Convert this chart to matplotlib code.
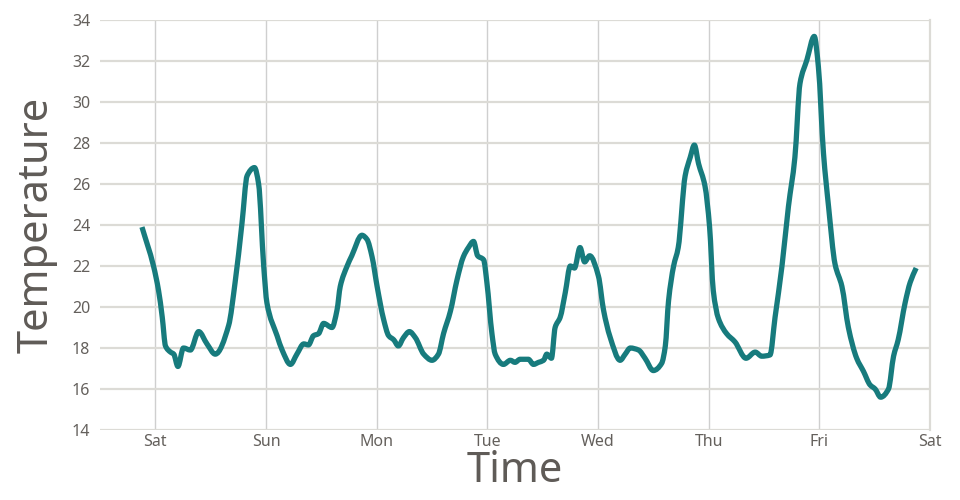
import matplotlib
matplotlib.use("Agg")
import matplotlib.pyplot as plt
from matplotlib.path import Path
from matplotlib.patches import PathPatch
import numpy as np

# hours since Saturday 00:00
hours = [-2.9, -0.4, 0.7, 1.5, 2.2, 3.3, 4.0, 4.9, 6.1, 7.6, 9.4, 11.2, 13.0, 15.9, 17.3,
         18.8, 19.9, 21.5, 22.4, 23.5, 24.2, 26.4, 27.5, 29.3, 30.7, 32.2, 33.2, 34.3, 35.4,
         36.5, 38.3, 39.4, 40.1, 41.6, 42.6, 44.8, 45.9, 47.0, 48.1, 49.5, 50.6, 51.7, 52.7,
         53.8, 55.1, 56.4, 58.2, 60.0, 61.4, 62.5, 64.0, 65.4, 66.8, 67.9, 69.0, 69.9, 71.2,
         71.9, 73.0, 73.7, 75.5, 77.0, 78.0, 79.1, 80.9, 82.0, 83.1, 84.2, 84.9, 85.9, 86.7,
         87.8, 88.9, 90.0, 90.9, 92.1, 93.1, 94.2, 96.1, 97.2, 98.6, 100.8, 101.9, 103.0,
         104.8, 106.2, 108.0, 109.8, 110.6, 111.3, 112.4, 113.4, 114.9, 116.0, 116.9, 117.8,
         119.2, 120.2, 121.0, 122.1, 123.9, 125.7, 128.1, 130.1, 131.5, 133.3, 134.4, 135.9,
         137.3, 138.7, 139.8, 141.3, 142.9, 143.8, 144.9, 146.0, 147.4, 148.9, 150.3, 152.1,
         153.6, 155.0, 156.1, 157.3, 159.0, 160.1, 161.1, 162.6, 163.7, 165.0]
temps = [23.9, 22.0, 20.8, 19.5, 18.1, 17.8, 17.7, 17.1, 18.0, 17.9, 18.8, 18.2, 17.7, 19.1, 21.2,
         24.1, 26.4, 26.8, 26.0, 22.0, 20.2, 18.6, 17.9, 17.2, 17.7, 18.2, 18.15, 18.6, 18.7,
         19.2, 19.0, 19.85, 21.0, 22.0, 22.5, 23.5, 23.3, 22.45, 21.0, 19.4, 18.6, 18.4, 18.1,
         18.5, 18.8, 18.5, 17.7, 17.4, 17.7, 18.7, 19.8, 21.3, 22.45, 22.9, 23.2, 22.5, 22.3,
         21.2, 18.7, 17.7, 17.2, 17.4, 17.3, 17.45, 17.45, 17.2, 17.3, 17.4, 17.7, 17.5, 19.0,
         19.5, 20.7, 22.0, 21.9, 22.9, 22.2, 22.5, 21.5, 19.85, 18.55, 17.4, 17.7, 18.0,
         17.9, 17.5, 16.9, 17.25, 18.1, 20.3, 22.0, 22.9, 26.4, 27.3, 27.9, 27.0,
         25.9, 23.9, 20.8, 19.45, 18.7, 18.3, 17.5, 17.8, 17.6, 17.66, 19.5, 22.0,
         24.9, 27.3, 30.9, 32.05, 33.2, 31.7, 27.5, 24.9, 22.1, 21.0, 19.0, 17.5,
         16.85, 16.2, 16.0, 15.6, 16.0, 17.6, 18.4, 20.2, 21.2, 21.9]

day_labels = ["Sat", "Sun", "Mon", "Tue", "Wed", "Thu", "Fri", "Sat"]
y_ticks = [14, 16, 18, 20, 22, 24, 26, 28, 30, 32, 34]

plt.rcParams["font.family"] = ["Noto Sans", "DejaVu Sans"]


def monotone_path(x, y):
    """Smooth monotone-x cubic curve through the points (as Bezier path)."""
    x = np.asarray(x, float)
    y = np.asarray(y, float)
    n = len(x)
    h = np.diff(x)
    d = np.diff(y) / h
    m = np.zeros(n)
    m[0] = d[0]
    m[-1] = d[-1]
    for i in range(1, n - 1):
        if d[i - 1] * d[i] <= 0:
            m[i] = 0.0
        else:
            w1 = 2 * h[i] + h[i - 1]
            w2 = h[i] + 2 * h[i - 1]
            m[i] = (w1 + w2) / (w1 / d[i - 1] + w2 / d[i])
    verts = [(x[0], y[0])]
    codes = [Path.MOVETO]
    for i in range(n - 1):
        dx = h[i] / 3.0
        verts += [(x[i] + dx, y[i] + m[i] * dx),
                  (x[i + 1] - dx, y[i + 1] - m[i + 1] * dx),
                  (x[i + 1], y[i + 1])]
        codes += [Path.CURVE4] * 3
    return Path(verts, codes)


fig = plt.figure(figsize=(9.6, 5.0), dpi=100)
ax = fig.add_axes([100 / 960, 70 / 500, 830 / 960, 410 / 500])

days = np.array(hours) / 24.0
patch = PathPatch(monotone_path(days, temps), facecolor="none", edgecolor="#177b7d",
                  lw=3.8, joinstyle="round", capstyle="butt", zorder=3)
ax.add_patch(patch)

ax.set_xlim(-0.5, 7)
ax.set_ylim(14, 34)
ax.set_xticks(range(len(day_labels)))
ax.set_xticklabels(day_labels)
ax.set_yticks(y_ticks)

for s in ["left", "top", "bottom"]:
    ax.spines[s].set_visible(False)
ax.spines["right"].set_color("#dcdbd6")
ax.spines["right"].set_linewidth(1.6)

ax.yaxis.grid(True, color="#dcdbd6", lw=1.6)
ax.xaxis.grid(True, color="#cfcfcf", lw=1.0)
ax.set_axisbelow(True)

ax.tick_params(axis="both", length=0, labelsize=11.5, labelcolor="#64605c")
ax.tick_params(axis="x", pad=3)
ax.tick_params(axis="y", pad=7)

ax.set_xlabel("Time", fontsize=30, color="#5f5b57", labelpad=0)
ax.set_ylabel("Temperature", fontsize=30, color="#5f5b57", labelpad=10)

fig.savefig("out.png", dpi=100)
